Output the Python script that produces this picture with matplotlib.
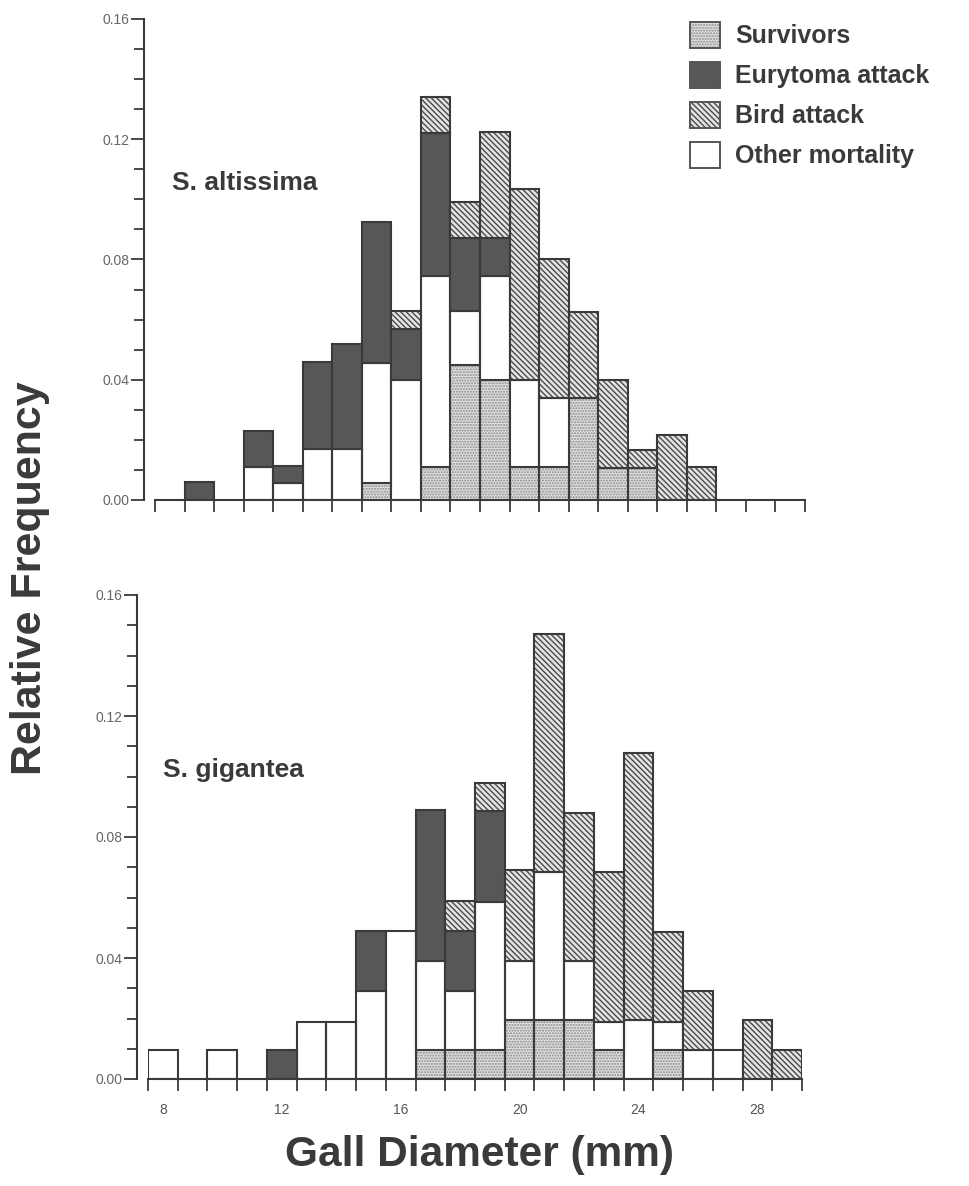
import matplotlib
matplotlib.use("Agg")
import matplotlib.pyplot as plt
from matplotlib.patches import Patch
import numpy as np

plt.rcParams['font.family'] = ['Liberation Sans', 'DejaVu Sans']
plt.rcParams['hatch.linewidth'] = 1.0

# gall diameter classes (mm), one bar per class
bins = list(range(8, 30))

# S. altissima, relative frequency per class
surv_a  = [0, 0, 0, 0, 0, 0, 0, 0.0056, 0, 0.011, 0.045, 0.040, 0.011, 0.011, 0.034, 0.0105, 0.0105, 0, 0, 0, 0, 0]
other_a = [0, 0, 0, 0.011, 0.0056, 0.0168, 0.0168, 0.040, 0.040, 0.0635, 0.018, 0.0345, 0.029, 0.023, 0, 0, 0, 0, 0, 0, 0, 0]
eury_a  = [0, 0.006, 0, 0.012, 0.0056, 0.029, 0.035, 0.047, 0.017, 0.0475, 0.0243, 0.0128, 0, 0, 0, 0, 0, 0, 0, 0, 0, 0]
bird_a  = [0, 0, 0, 0, 0, 0, 0, 0, 0.006, 0.012, 0.0117, 0.035, 0.0635, 0.046, 0.0285, 0.0295, 0.006, 0.0215, 0.011, 0, 0, 0]

# S. gigantea
surv_g  = [0, 0, 0, 0, 0, 0, 0, 0, 0, 0.0095, 0.0095, 0.0095, 0.0195, 0.0195, 0.0195, 0.0095, 0, 0.0095, 0, 0, 0, 0]
other_g = [0.0097, 0, 0.0097, 0, 0, 0.019, 0.019, 0.029, 0.049, 0.0295, 0.0195, 0.049, 0.0195, 0.049, 0.0195, 0.0095, 0.0195, 0.0095, 0.0095, 0.0095, 0, 0]
eury_g  = [0, 0, 0, 0, 0.0097, 0, 0, 0.020, 0, 0.050, 0.020, 0.030, 0, 0, 0, 0, 0, 0, 0, 0, 0, 0]
bird_g  = [0, 0, 0, 0, 0, 0, 0, 0, 0, 0, 0.010, 0.0093, 0.030, 0.0786, 0.049, 0.0494, 0.0883, 0.0295, 0.0195, 0, 0.0195, 0.0095]

labels = ['Survivors', 'Eurytoma attack', 'Bird attack', 'Other mortality']
xlabels = [8, 12, 16, 20, 24, 28]
yticks = [0, 0.04, 0.08, 0.12, 0.16]

# fill style per category: face, hatch, hatch colour
styles = {
    'Survivors':       ('#e0e0e0', '......', '#8a8a8a'),
    'Eurytoma attack': ('#575757', None, '#575757'),
    'Bird attack':     ('#e4e4e4', '\\\\\\\\\\\\', '#4a4a4a'),
    'Other mortality': ('white', None, 'white'),
}
edge = '#3a3a3a'
txt = '#3a3a3a'


def draw(ax, surv, other, eury, bird):
    bottom = np.zeros(len(bins))
    for name, vals in [('Survivors', surv), ('Other mortality', other),
                       ('Eurytoma attack', eury), ('Bird attack', bird)]:
        vals = np.array(vals)
        fc, hatch, hc = styles[name]
        m = vals > 0
        x = np.array(bins)[m]
        ax.bar(x, vals[m], width=1.0, bottom=bottom[m], color=fc,
               edgecolor=hc, hatch=hatch, linewidth=0)
        ax.bar(x, vals[m], width=1.0, bottom=bottom[m], fill=False,
               edgecolor=edge, linewidth=1.5)
        bottom += vals

    edges = [b - 0.5 for b in bins] + [bins[-1] + 0.5]
    ax.set_xlim(edges[0], edges[-1])
    ax.set_ylim(0, 0.16)
    for s in ['top', 'right']:
        ax.spines[s].set_visible(False)
    ax.spines['left'].set_position(('outward', 8))
    ax.spines['left'].set_bounds(0, 0.16)
    for s in ['left', 'bottom']:
        ax.spines[s].set_linewidth(1.5)
        ax.spines[s].set_color(edge)
    ax.set_xticks(edges, minor=True)
    ax.set_yticks(yticks)
    ax.set_yticklabels(['%.2f' % v for v in yticks])
    ax.set_yticks(np.arange(0, 0.161, 0.01), minor=True)
    ax.tick_params(axis='x', which='minor', length=8.5, width=1.3, color=edge, direction='out')
    ax.tick_params(axis='y', which='major', length=9.5, width=1.3, color=edge, pad=1,
                   labelsize=10, labelcolor='#666666')
    ax.tick_params(axis='y', which='minor', length=7, width=1.3, color=edge)


fig = plt.figure(figsize=(9.7, 11.86), dpi=100)
ax1 = fig.add_axes([155 / 970, 1 - 500 / 1186, 650 / 970, 481 / 1186])
ax2 = fig.add_axes([148 / 970, 1 - 1079 / 1186, 654 / 970, 484 / 1186])

draw(ax1, surv_a, other_a, eury_a, bird_a)
draw(ax2, surv_g, other_g, eury_g, bird_g)

ax1.set_xticks([])
ax2.set_xticks(xlabels)
ax2.set_xticklabels([str(v) for v in xlabels])
ax2.tick_params(axis='x', which='major', length=0, pad=17, labelsize=10, labelcolor='#555555')

fig.text(172 / 970, 1 - 183 / 1186, 'S. altissima', fontsize=19, fontweight='bold',
         color=txt, ha='left', va='center')
fig.text(163 / 970, 1 - 770 / 1186, 'S. gigantea', fontsize=19, fontweight='bold',
         color=txt, ha='left', va='center')

fig.text(30 / 970, 1 - 578 / 1186, 'Relative Frequency', fontsize=31, fontweight='bold',
         color=txt, rotation=90, ha='center', va='center')
fig.text(480 / 970, 1 - 1155 / 1186, 'Gall Diameter (mm)', fontsize=30.5, fontweight='bold',
         color=txt, ha='center', va='center')

handles = []
for name in labels:
    fc, hatch, hc = styles[name]
    handles.append((Patch(facecolor=fc, edgecolor=hc, hatch=hatch, linewidth=0),
                    Patch(fill=False, edgecolor='#555555', linewidth=1.4)))
ax1.legend(handles, labels, loc='upper left', bbox_to_anchor=(690 / 970, 1 - 22 / 1186),
           bbox_transform=fig.transFigure, frameon=False,
           prop={'weight': 'bold', 'size': 18}, labelcolor=txt,
           handlelength=1.2, handleheight=1.2, labelspacing=0.55,
           handletextpad=0.6, borderpad=0, borderaxespad=0)

fig.savefig('out.png', dpi=100)
